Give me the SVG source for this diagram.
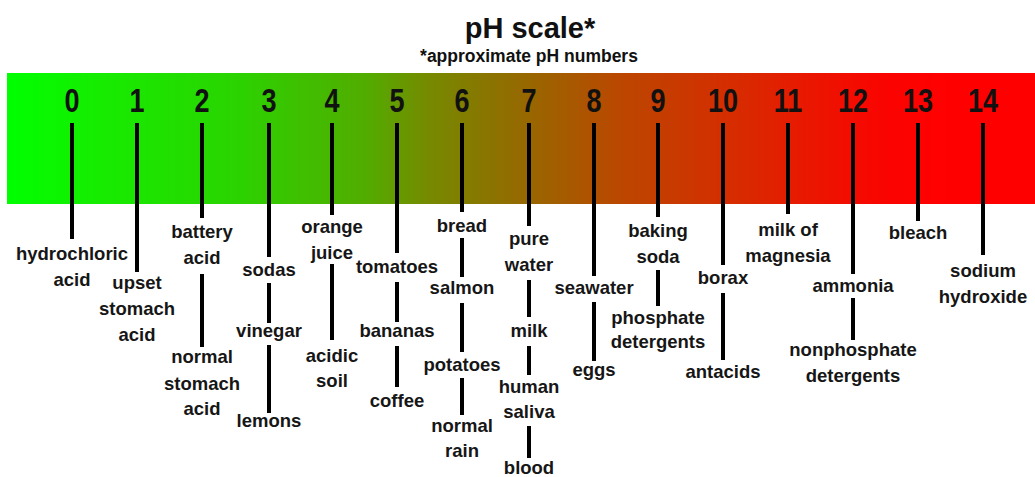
<svg xmlns="http://www.w3.org/2000/svg" width="1035" height="477" viewBox="0 0 1035 477">
<defs>
<linearGradient id="ph" x1="7" y1="0" x2="1035" y2="0" gradientUnits="userSpaceOnUse">
<stop offset="0" stop-color="#00ff00"/>
<stop offset="0.09" stop-color="#16ec00"/>
<stop offset="0.22" stop-color="#2ad400"/>
<stop offset="0.35" stop-color="#52ac00"/>
<stop offset="0.41" stop-color="#768a00"/>
<stop offset="0.475" stop-color="#8c7200"/>
<stop offset="0.54" stop-color="#a45c00"/>
<stop offset="0.60" stop-color="#bc4600"/>
<stop offset="0.665" stop-color="#cc3600"/>
<stop offset="0.73" stop-color="#dc2600"/>
<stop offset="0.79" stop-color="#ec1400"/>
<stop offset="0.855" stop-color="#fa0400"/>
<stop offset="0.92" stop-color="#ff0000"/>
<stop offset="1" stop-color="#ff0000"/>
</linearGradient>
</defs>
<style>
.title{font-family:"Liberation Sans",Arial,sans-serif;font-weight:bold;fill:#111;text-anchor:middle}
.num{font-family:"Liberation Sans",Arial,sans-serif;font-weight:bold;font-size:33px;fill:#111;text-anchor:middle}
.lbl{font-family:"Liberation Sans",Arial,sans-serif;font-weight:bold;font-size:18.5px;fill:#161616;text-anchor:middle}
.tick{stroke:#000;stroke-width:4;fill:none}
</style>
<rect width="1035" height="477" fill="#ffffff"/>
<g id="title">
<text class="title" x="530" y="38" font-size="29">pH scale*</text>
<text class="title" x="529" y="62" font-size="17.5">*approximate pH numbers</text>
</g>
<rect id="scale-bar" x="7" y="73" width="1028" height="131" fill="url(#ph)"/>
<g id="connectors">
<path class="tick" d="M72 123V239"/>
<path class="tick" d="M137 123V272"/>
<path class="tick" d="M202 123V218M202 274V347"/>
<path class="tick" d="M269 123V257M269 283V323M269 345V413"/>
<path class="tick" d="M332 123V215M332 264V340"/>
<path class="tick" d="M397 123V253M397 282V322M397 346V387"/>
<path class="tick" d="M462 123V212M462 238V277M462 303V352M462 378V415"/>
<path class="tick" d="M529 123V226M529 280V317M529 346V375M529 426V458"/>
<path class="tick" d="M594 123V276M594 302V361"/>
<path class="tick" d="M658 123V217M658 270V306"/>
<path class="tick" d="M723 123V265M723 293V360"/>
<path class="tick" d="M788 123V214"/>
<path class="tick" d="M853 123V274M853 298V340"/>
<path class="tick" d="M918 123V221"/>
<path class="tick" d="M983 123V255"/>
</g>
<g id="ph0">
<text class="num" transform="translate(72 112) scale(0.82 1)">0</text>
<text class="lbl" x="72" y="260">hydrochloric</text>
<text class="lbl" x="72" y="286">acid</text>
</g>
<g id="ph1">
<text class="num" transform="translate(137 112) scale(0.82 1)">1</text>
<text class="lbl" x="137" y="289">upset</text>
<text class="lbl" x="137" y="315">stomach</text>
<text class="lbl" x="137" y="341">acid</text>
</g>
<g id="ph2">
<text class="num" transform="translate(202 112) scale(0.82 1)">2</text>
<text class="lbl" x="202" y="238">battery</text>
<text class="lbl" x="202" y="264">acid</text>
<text class="lbl" x="202" y="363">normal</text>
<text class="lbl" x="202" y="390">stomach</text>
<text class="lbl" x="202" y="415">acid</text>
</g>
<g id="ph3">
<text class="num" transform="translate(269 112) scale(0.82 1)">3</text>
<text class="lbl" x="269" y="276">sodas</text>
<text class="lbl" x="269" y="337">vinegar</text>
<text class="lbl" x="269" y="427">lemons</text>
</g>
<g id="ph4">
<text class="num" transform="translate(332 112) scale(0.82 1)">4</text>
<text class="lbl" x="332" y="233">orange</text>
<text class="lbl" x="332" y="259">juice</text>
<text class="lbl" x="332" y="362">acidic</text>
<text class="lbl" x="332" y="387">soil</text>
</g>
<g id="ph5">
<text class="num" transform="translate(397 112) scale(0.82 1)">5</text>
<text class="lbl" x="397" y="273">tomatoes</text>
<text class="lbl" x="397" y="337">bananas</text>
<text class="lbl" x="397" y="407">coffee</text>
</g>
<g id="ph6">
<text class="num" transform="translate(462 112) scale(0.82 1)">6</text>
<text class="lbl" x="462" y="232">bread</text>
<text class="lbl" x="462" y="294">salmon</text>
<text class="lbl" x="462" y="371">potatoes</text>
<text class="lbl" x="462" y="432">normal</text>
<text class="lbl" x="462" y="457">rain</text>
</g>
<g id="ph7">
<text class="num" transform="translate(529 112) scale(0.82 1)">7</text>
<text class="lbl" x="529" y="245">pure</text>
<text class="lbl" x="529" y="271">water</text>
<text class="lbl" x="529" y="337">milk</text>
<text class="lbl" x="529" y="393">human</text>
<text class="lbl" x="529" y="418">saliva</text>
<text class="lbl" x="529" y="474">blood</text>
</g>
<g id="ph8">
<text class="num" transform="translate(594 112) scale(0.82 1)">8</text>
<text class="lbl" x="594" y="294">seawater</text>
<text class="lbl" x="594" y="376">eggs</text>
</g>
<g id="ph9">
<text class="num" transform="translate(658 112) scale(0.82 1)">9</text>
<text class="lbl" x="658" y="237">baking</text>
<text class="lbl" x="658" y="263">soda</text>
<text class="lbl" x="658" y="324">phosphate</text>
<text class="lbl" x="658" y="348">detergents</text>
</g>
<g id="ph10">
<text class="num" transform="translate(723 112) scale(0.82 1)">10</text>
<text class="lbl" x="723" y="284">borax</text>
<text class="lbl" x="723" y="378">antacids</text>
</g>
<g id="ph11">
<text class="num" transform="translate(788 112) scale(0.82 1)">11</text>
<text class="lbl" x="788" y="236">milk of</text>
<text class="lbl" x="788" y="262">magnesia</text>
</g>
<g id="ph12">
<text class="num" transform="translate(853 112) scale(0.82 1)">12</text>
<text class="lbl" x="853" y="292">ammonia</text>
<text class="lbl" x="853" y="356">nonphosphate</text>
<text class="lbl" x="853" y="382">detergents</text>
</g>
<g id="ph13">
<text class="num" transform="translate(918 112) scale(0.82 1)">13</text>
<text class="lbl" x="918" y="239">bleach</text>
</g>
<g id="ph14">
<text class="num" transform="translate(983 112) scale(0.82 1)">14</text>
<text class="lbl" x="983" y="277">sodium</text>
<text class="lbl" x="983" y="303">hydroxide</text>
</g>
</svg>
